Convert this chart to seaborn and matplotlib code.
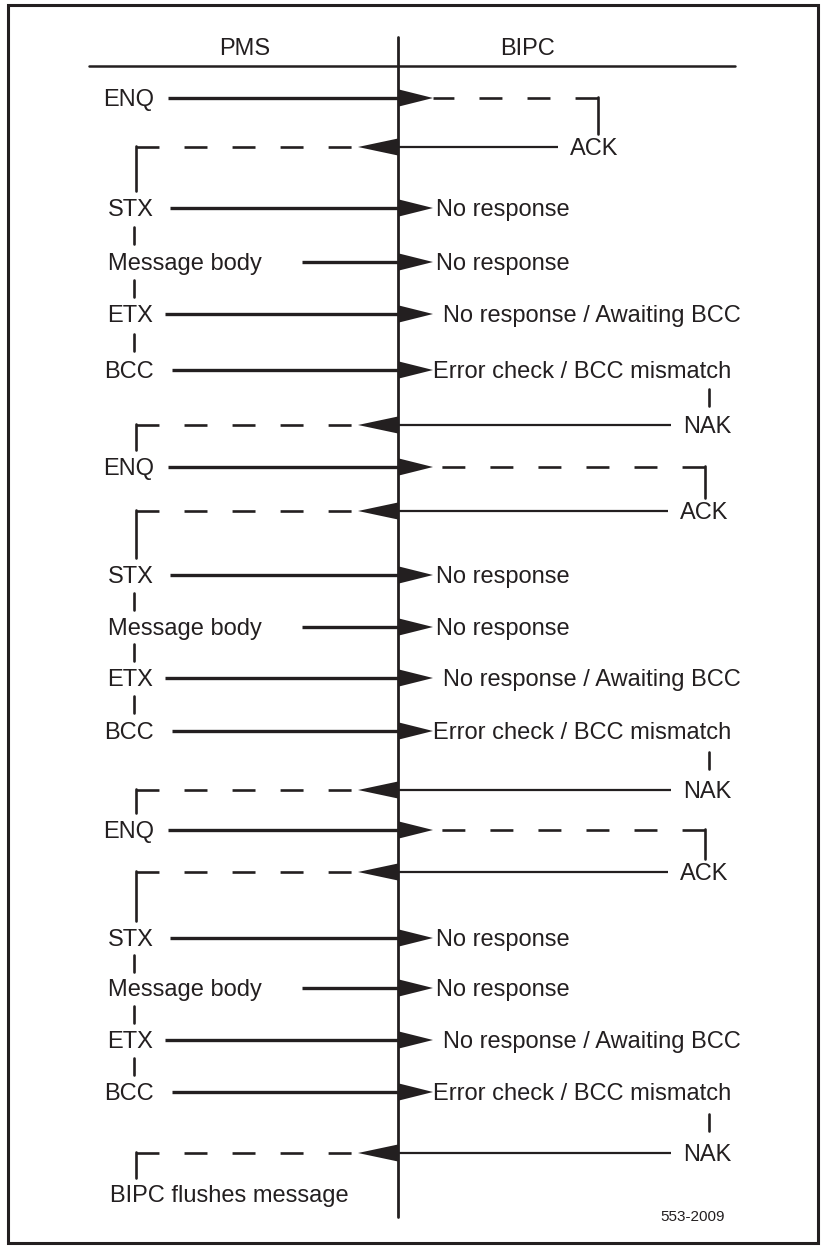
import matplotlib.pyplot as plt
import seaborn as sns

# === Sequence data (y = position of each step down the page, px) ===
parties = ["PMS", "BIPC"]
send_labels = ["ENQ", "STX", "Message body", "ETX", "BCC",
               "ENQ", "STX", "Message body", "ETX", "BCC",
               "ENQ", "STX", "Message body", "ETX", "BCC"]
send_y = [98, 208, 262, 314, 370,
          467, 575, 627, 678, 731,
          830, 938, 988, 1040, 1092]
send_notes = ["", "No response", "No response", "No response / Awaiting BCC", "Error check / BCC mismatch",
              "", "No response", "No response", "No response / Awaiting BCC", "Error check / BCC mismatch",
              "", "No response", "No response", "No response / Awaiting BCC", "Error check / BCC mismatch"]
reply_labels = ["ACK", "NAK", "ACK", "NAK", "ACK", "NAK"]
reply_y = [147, 425, 511, 790, 872, 1153]
final_label = "BIPC flushes message"
final_y = 1195
figure_id = "553-2009"

# === Layout ===
W, H = 824, 1248
LIFE_X = 398
LEFT_CORNER_X = 136
LEFT_BAR_X = 134
RIGHT_BAR_X = 709
HEAD = 8.5
INK = "#231f20"
label_x = {"ENQ": 129, "STX": 131, "Message body": 185, "ETX": 130, "BCC": 129}
line_x0 = {"ENQ": 168, "STX": 170, "Message body": 302, "ETX": 165, "BCC": 172}
note_x = {"No response": 436, "No response / Awaiting BCC": 443, "Error check / BCC mismatch": 433}
reply_text_x = [570, 683, 680, 683, 680, 683]
enq_corner_x = [598, 705, 705]
FS = 17

sns.set_theme(style="white")
plt.rcParams["font.family"] = ["Liberation Sans", "DejaVu Sans"]

fig = plt.figure(figsize=(W / 100, H / 100), dpi=100)
ax = fig.add_axes([0, 0, 1, 1])
ax.set_xlim(0, W)
ax.set_ylim(H, 0)
ax.axis("off")

def label(x, y, s, ha="center", size=FS):
    # baseline sits half a cap height under the row line
    ax.text(x, y + 8, s, ha=ha, va="baseline", fontsize=size, color=INK)

dash = (0, (8.7, 9.5))

# frame, header, lifeline
ax.add_patch(plt.Rectangle((8, 5), 810, 1238, fill=False, lw=2.2, ec=INK))
ax.text(245, 55, parties[0], ha="center", va="baseline", fontsize=FS, color=INK)
ax.text(528, 55, parties[1], ha="center", va="baseline", fontsize=FS, color=INK)
ax.plot([89, 735], [66, 66], color=INK, lw=1.8)
ax.plot([LIFE_X, LIFE_X], [37, 1217], color=INK, lw=2.0)

# === PMS -> BIPC messages ===
enq_i = 0
for i, (lab, y, note) in enumerate(zip(send_labels, send_y, send_notes)):
    label(label_x[lab], y, lab)
    ax.plot([line_x0[lab], LIFE_X], [y, y], color=INK, lw=2.4, solid_capstyle="butt")
    tip = LIFE_X + 35
    ax.fill([LIFE_X + 1, LIFE_X + 1, tip], [y - HEAD, y + HEAD, y], color=INK, lw=0)
    if lab == "ENQ":
        cx = enq_corner_x[enq_i]
        ry = reply_y[2 * enq_i]
        ax.plot([cx, tip], [y, y], color=INK, lw=1.9, linestyle=dash)
        ax.plot([cx, cx], [y - 1, ry - 13], color=INK, lw=1.9)
        enq_i += 1
    else:
        label(note_x[note], y, note, ha="left")
    # continuation ticks between the steps of one block
    if lab in ("STX", "Message body", "ETX"):
        mid = (y + send_y[i + 1]) / 2
        ax.plot([LEFT_BAR_X, LEFT_BAR_X], [mid - 8.5, mid + 8.5], color=INK, lw=1.9)
    if lab == "BCC":
        nak_y = reply_y[2 * (i // 5) + 1]
        mid = (y + nak_y) / 2
        ax.plot([RIGHT_BAR_X, RIGHT_BAR_X], [mid - 8.5, mid + 8.5], color=INK, lw=1.9)

# === BIPC -> PMS replies ===
next_y = {147: 208, 425: 467, 511: 575, 790: 830, 872: 938, 1153: final_y}
for j, (lab, y) in enumerate(zip(reply_labels, reply_y)):
    tx = reply_text_x[j]
    label(tx, y, lab, ha="left")
    ax.plot([tx - 12, LIFE_X], [y, y], color=INK, lw=1.6, solid_capstyle="butt")
    tip = LIFE_X - 40
    ax.fill([LIFE_X, LIFE_X, tip], [y - HEAD, y + HEAD, y], color=INK, lw=0)
    ax.plot([LEFT_CORNER_X, tip], [y, y], color=INK, lw=1.9, linestyle=dash)
    ax.plot([LEFT_CORNER_X, LEFT_CORNER_X], [y - 1, next_y[y] - 17], color=INK, lw=1.9)

ax.text(110, final_y + 7, final_label, ha="left", va="baseline", fontsize=FS, color=INK)
ax.text(693, 1221, figure_id, ha="center", va="baseline", fontsize=11, color=INK)

fig.savefig("out.png", dpi=100, facecolor="white")
